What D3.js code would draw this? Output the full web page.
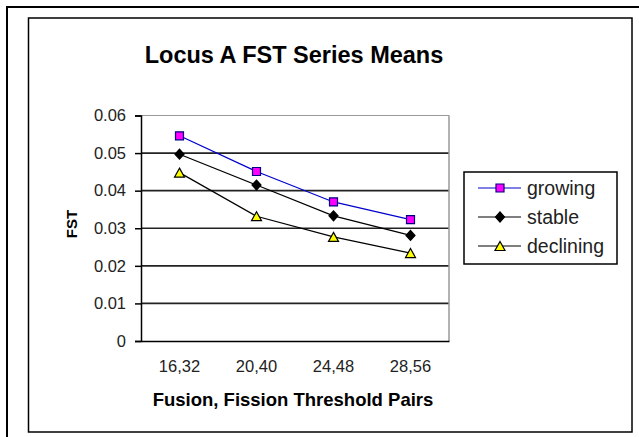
<!DOCTYPE html>
<html>
<head>
<meta charset="utf-8">
<script src="https://cdn.jsdelivr.net/npm/d3@7"></script>
<style>
  html, body { margin: 0; padding: 0; background: #fff; }
  svg { display: block; font-family: 'Liberation Sans', Arial, sans-serif; }
</style>
</head>
<body>
<div id="chart"></div>
<script>
  // ── Data ──
  const categorias = ['16,32', '20,40', '24,48', '28,56'];
  const growing = [0.0546, 0.0451, 0.0370, 0.0323];
  const stable = [0.0497, 0.0415, 0.0333, 0.0281];
  const declining = [0.0448, 0.0332, 0.0277, 0.0234];
  const yTicks = [0, 0.01, 0.02, 0.03, 0.04, 0.05, 0.06];

  const series = [
    { nome: 'growing', valores: growing, linha: '#0000cc', forma: 'square', fill: '#ff00ff', stroke: '#000080' },
    { nome: 'stable', valores: stable, linha: '#000000', forma: 'diamond', fill: '#000000', stroke: '#000000' },
    { nome: 'declining', valores: declining, linha: '#000000', forma: 'triangle', fill: '#ffff00', stroke: '#000000' },
  ];

  const W = 639, H = 437;
  const plot = { left: 141, right: 449, top: 115.5, bottom: 341 };

  const svg = d3.select('#chart').append('svg')
    .attr('width', W).attr('height', H);

  // ── Frames ──
  svg.append('rect')
    .attr('x', 7).attr('y', 7).attr('width', 660).attr('height', 460)
    .attr('fill', 'none').attr('stroke', '#000').attr('stroke-width', 2);
  svg.append('rect')
    .attr('x', 28.5).attr('y', 18).attr('width', 603.5).attr('height', 414)
    .attr('fill', '#fff').attr('stroke', '#000').attr('stroke-width', 1.5);

  // ── Scales ──
  const x = d3.scaleBand().domain(categorias).range([plot.left, plot.right]);
  const y = d3.scaleLinear().domain([0, 0.06]).range([plot.bottom, plot.top]);

  // ── Gridlines ──
  svg.append('g')
    .selectAll('line')
    .data(yTicks.filter(t => t > 0))
    .join('line')
    .attr('x1', plot.left).attr('x2', plot.right)
    .attr('y1', d => y(d)).attr('y2', d => y(d))
    .attr('stroke', d => d === 0.06 ? '#999' : '#222')
    .attr('stroke-width', d => d === 0.06 ? 1.2 : 1.6);

  // borda direita da área de plotagem (cinza)
  svg.append('line')
    .attr('x1', plot.right).attr('x2', plot.right)
    .attr('y1', plot.top).attr('y2', plot.bottom)
    .attr('stroke', '#999').attr('stroke-width', 1.5);

  // ── Axes ──
  const eixoY = svg.append('g')
    .attr('transform', `translate(${plot.left},0)`)
    .call(d3.axisLeft(y).tickValues(yTicks).tickSize(6).tickPadding(9)
      .tickFormat(d => d === 0 ? '0' : d3.format('.2f')(d)));
  eixoY.select('.domain').attr('stroke', '#000').attr('stroke-width', 1.5);
  eixoY.selectAll('.tick line').attr('stroke', '#000').attr('stroke-width', 1.5);
  eixoY.selectAll('text')
    .attr('fill', '#222')
    .style('font-size', '16.5px')
    .style('font-family', "'Liberation Sans', Arial, sans-serif");

  const eixoX = svg.append('g')
    .attr('transform', `translate(0,${plot.bottom})`)
    .call(d3.axisBottom(x).tickSize(0).tickPadding(19));
  eixoX.select('.domain').attr('stroke', '#000').attr('stroke-width', 1.5);
  eixoX.selectAll('text')
    .attr('fill', '#222')
    .style('font-size', '16.5px')
    .style('font-family', "'Liberation Sans', Arial, sans-serif");

  // ── Markers ──
  function forma(tipo) {
    if (tipo === 'square') return d3.symbol().type(d3.symbolSquare).size(64)();
    if (tipo === 'diamond') return 'M0,-5L4.5,0L0,5L-4.5,0Z';
    return 'M0,-5.5L5,3.5L-5,3.5Z';
  }

  const linha = d3.line()
    .x((d, i) => x(categorias[i]) + x.bandwidth() / 2)
    .y(d => y(d));

  series.forEach(s => {
    svg.append('path')
      .datum(s.valores)
      .attr('d', linha)
      .attr('fill', 'none')
      .attr('stroke', s.linha)
      .attr('stroke-width', 1.2);

    svg.append('g')
      .selectAll('path')
      .data(s.valores)
      .join('path')
      .attr('transform', (d, i) => `translate(${x(categorias[i]) + x.bandwidth() / 2},${y(d) + (s.forma === 'triangle' ? 1 : 0)})`)
      .attr('d', forma(s.forma))
      .attr('fill', s.fill)
      .attr('stroke', s.stroke)
      .attr('stroke-width', 1.2);
  });

  // ── Titles ──
  svg.append('text')
    .attr('x', 294).attr('y', 63)
    .attr('text-anchor', 'middle')
    .style('font-size', '23.5px')
    .style('font-weight', 'bold')
    .text('Locus A FST Series Means');

  svg.append('text')
    .attr('x', 293).attr('y', 406)
    .attr('text-anchor', 'middle')
    .style('font-size', '18.5px')
    .style('font-weight', 'bold')
    .text('Fusion, Fission Threshold Pairs');

  svg.append('text')
    .attr('transform', 'translate(77,224) rotate(-90)')
    .attr('text-anchor', 'middle')
    .style('font-size', '15px')
    .style('font-weight', 'bold')
    .text('FST');

  // ── Legend ──
  const leg = svg.append('g');
  leg.append('rect')
    .attr('x', 464).attr('y', 172).attr('width', 153).attr('height', 92)
    .attr('fill', '#fff').attr('stroke', '#000').attr('stroke-width', 1.5);

  const legY = d3.scalePoint().domain(series.map(s => s.nome)).range([188, 246]);

  series.forEach(s => {
    const cy = legY(s.nome);
    leg.append('line')
      .attr('x1', 478).attr('x2', 521).attr('y1', cy).attr('y2', cy)
      .attr('stroke', s.linha).attr('stroke-width', 1.2);
    leg.append('path')
      .attr('transform', `translate(500,${cy + (s.forma === 'triangle' ? 1 : 0)})`)
      .attr('d', forma(s.forma))
      .attr('fill', s.fill).attr('stroke', s.stroke).attr('stroke-width', 1.2);
    leg.append('text')
      .attr('x', 527).attr('y', cy + 7)
      .attr('fill', '#222')
      .style('font-size', '19.5px')
      .text(s.nome);
  });
</script>
</body>
</html>
